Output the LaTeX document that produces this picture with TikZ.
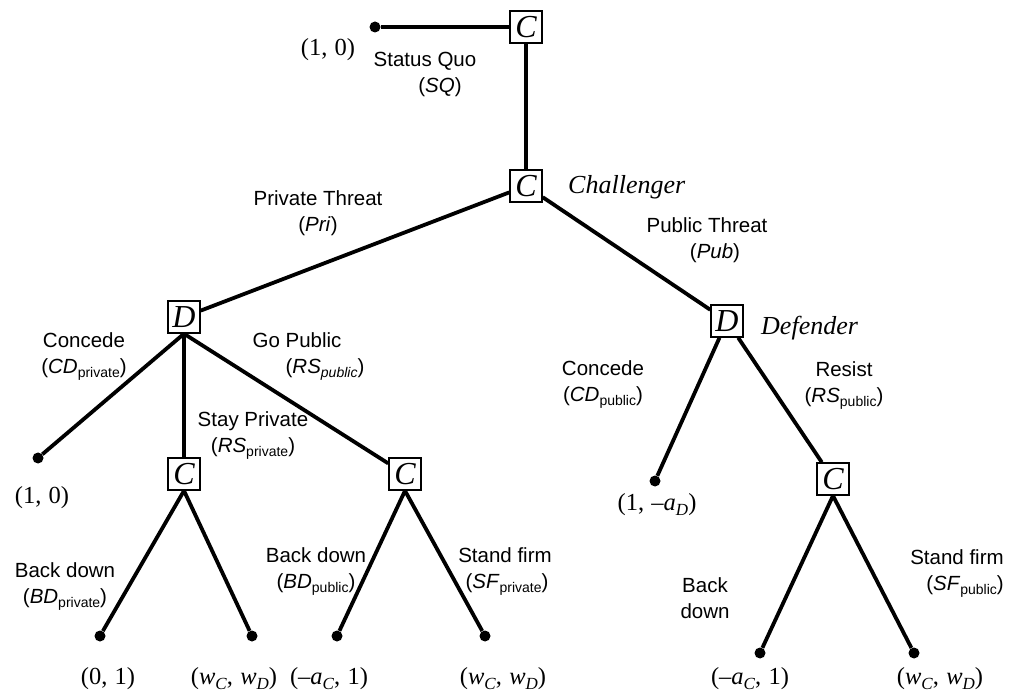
\documentclass[tikz,border=0pt]{standalone}
\usepackage{fontspec}
\setmainfont{Liberation Serif}
\setsansfont{Liberation Sans}
% subscript in the sans action labels
\newcommand\actsub[1]{\raisebox{-4pt}{\fontsize{14}{14}\selectfont #1}}
% italic subscript in the payoff pairs
\newcommand\paysub[1]{\raisebox{-5pt}{\fontsize{17}{17}\selectfont\itshape #1}}
% shift a line sideways without changing its width
\newcommand\nudge[2]{\hbox{\kern#1pt\relax #2\kern-#1pt\relax}}
% gap after the comma of a payoff pair
\newcommand\pgap{,\hspace{0.3em}}
\begin{document}
\begin{tikzpicture}[x=1pt,y=-1pt,
  movebox/.style={draw, line width=1.5pt, minimum size=32pt, inner sep=0pt,
    fill=white, font=\fontsize{32}{32}\selectfont\itshape},
  leaf/.style={circle, fill=black, inner sep=0pt, minimum size=11pt},
  branch/.style={line width=3.8pt},
  act/.style={font=\sffamily\fontsize{20.5}{26}\selectfont, align=center, inner sep=0pt},
  pay/.style={font=\fontsize{24.5}{24.5}\selectfont, inner sep=0pt},
  who/.style={font=\fontsize{26}{26}\selectfont\itshape, inner sep=0pt, anchor=base west},
]
\useasboundingbox (0,0) rectangle (1015,692);

% decision nodes
\node[movebox] (c0) at (526,27) {C};
\node[movebox] (c1) at (526,186) {C};
\node[movebox] (dl) at (184,317) {D};
\node[movebox] (dr) at (727,321) {D};
\node[movebox] (cl) at (184,474) {C};
\node[movebox] (cm) at (405,474) {C};
\node[movebox] (cr) at (833,479) {C};

% terminal nodes
\node[leaf] (sq) at (375,27) {};
\node[leaf] (t1) at (38,458) {};
\node[leaf] (t2) at (655,481) {};
\node[leaf] (t3) at (100,636) {};
\node[leaf] (t4) at (252,636) {};
\node[leaf] (t5) at (337,636) {};
\node[leaf] (t6) at (485,636) {};
\node[leaf] (t7) at (760,653) {};
\node[leaf] (t8) at (914,653) {};

% branches
\draw[branch] (sq) -- (c0);
\draw[branch] (c0) -- (c1);
\draw[branch] (c1) -- (dl);
\draw[branch] (c1) -- (dr);
\draw[branch] (dl.south) -- (t1);
\draw[branch] (dl.south) -- (cl);
\draw[branch] (dl.south) -- (cm);
\draw[branch] (dr) -- (t2);
\draw[branch] (dr) -- (cr);
\draw[branch] (cl.south) -- (t3);
\draw[branch] (cl.south) -- (t4);
\draw[branch] (cm.south) -- (t5);
\draw[branch] (cm.south) -- (t6);
\draw[branch] (cr.south) -- (t7);
\draw[branch] (cr.south) -- (t8);

% players
\node[who] (chal) at (568,194) {Challenger};
\node[who] (def) at (761,335) {Defender};

% actions
\node[act] (aSQ) at (425,74.5) {Status Quo\\\nudge{15}{(\textit{SQ})}};
\node[act] (aPri) at (318,213.5) {Private Threat\\(\textit{Pri})};
\node[act] (aPub) at (707,240) {Public Threat\\\nudge{8}{(\textit{Pub})}};
\node[act] (aCDpr) at (84,356.5) {Concede\\(\textit{CD}\actsub{private})};
\node[act] (aGoP) at (297,356.5) {Go Public\\\nudge{28}{(\textit{RS}\actsub{\itshape public})}};
\node[act] (aStay) at (253,436) {Stay Private\\(\textit{RS}\actsub{private})};
\node[act] (aCDpu) at (603,384.5) {Concede\\(\textit{CD}\actsub{public})};
\node[act] (aRes) at (844,386) {Resist\\(\textit{RS}\actsub{public})};
\node[act] (aBDpr) at (65,586.5) {Back down\\(\textit{BD}\actsub{private})};
\node[act] (aBDpu) at (316,572) {Back down\\(\textit{BD}\actsub{public})};
\node[act] (aSFpr) at (505,572) {Stand firm\\\nudge{2}{(\textit{SF}\actsub{private})}};
\node[act] (aBD) at (705,598) {Back\\down};
\node[act] (aSFpu) at (957,573.5) {Stand firm\\\nudge{8}{(\textit{SF}\actsub{public})}};

% payoffs
\node[pay] (p0) at (328,50) {(1\pgap 0)};
\node[pay] (p1) at (42,498) {(1\pgap 0)};
\node[pay] (p2) at (657,505) {(1\pgap –\textit{a}\paysub{D})};
\node[pay] (p3) at (108,679) {(0\pgap 1)};
\node[pay] (p4) at (234,679) {(\textit{w}\paysub{C}\pgap \textit{w}\paysub{D})};
\node[pay] (p5) at (329,679) {(–\textit{a}\paysub{C}\pgap 1)};
\node[pay] (p6) at (503,679) {(\textit{w}\paysub{C}\pgap \textit{w}\paysub{D})};
\node[pay] (p7) at (750,679) {(–\textit{a}\paysub{C}\pgap 1)};
\node[pay] (p8) at (940,679) {(\textit{w}\paysub{C}\pgap \textit{w}\paysub{D})};
\end{tikzpicture}
\end{document}
